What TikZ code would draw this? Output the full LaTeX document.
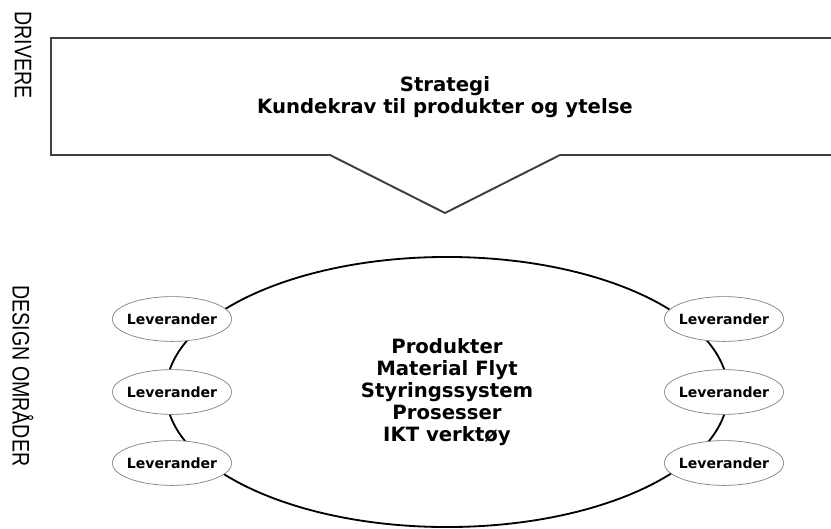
\documentclass[tikz,border=0pt]{standalone}
\usepackage{fontspec}
\setmainfont{DejaVu Sans}
\newfontfamily\sidefont{Liberation Sans}
\usetikzlibrary{shapes.geometric}

\begin{document}
\begin{tikzpicture}[x=0.025cm, y=-0.025cm,
    sidelabel/.style={font=\sidefont\fontsize{17}{17}\selectfont, rotate=-90, inner sep=0pt},
    bigtext/.style={font=\bfseries\fontsize{14}{15.6}\selectfont, align=center},
    lev/.style={ellipse, draw=black!50, fill=white, line width=0.5pt,
      minimum width=2.9cm, minimum height=1.12cm, inner xsep=-2pt, inner ysep=0pt,
      font=\bfseries\fontsize{10}{10}\selectfont}]
      \clip (0,0) rectangle (831,528);
      \node[sidelabel] (driv) at (23,55) {\scalebox{0.82}[1]{DRIVERE}};
      \node[sidelabel] (desi) at (23,376) {\scalebox{0.82}[1]{DESIGN OMRÅDER}};
      \draw[line width=1.4pt, black!75] (870,38) -- (51,38) -- (51,155) -- (330,155)
        -- (445,213) -- (560,155) -- (870,155);
      \node[bigtext] (strat) at (445,97) {Strategi\\Kundekrav til produkter og ytelse};
      \node[ellipse, draw, line width=1.3pt, minimum width=14.05cm, minimum height=6.75cm,
        bigtext] (omr) at (447,392)
        {Produkter\\Material Flyt\\Styringssystem\\Prosesser\\IKT verktøy};
      \foreach \y [count=\i] in {319,392,463} {
        \node[lev] (levv\i) at (172,\y) {Leverander};
        \node[lev] (levh\i) at (724,\y) {Leverander};
      }
\end{tikzpicture}
\end{document}
